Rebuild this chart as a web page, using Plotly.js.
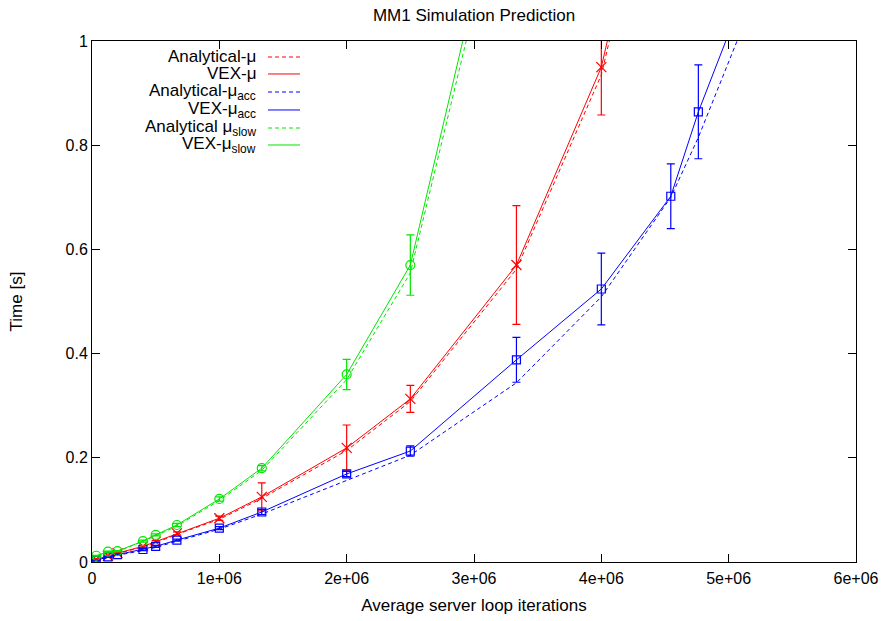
<!DOCTYPE html>
<html>
<head>
<meta charset="utf-8">
<script src="https://cdn.plot.ly/plotly-3.0.1.min.js"></script>
<style>html,body{margin:0;padding:0;background:#fff;}#chart{width:886px;height:621px;}</style>
</head>
<body>
<div id="chart"></div>
<script>
// ---- data ----
var xIter = [33333, 125000, 200000, 400000, 500000, 666667, 1000000, 1333333, 2000000, 2500000, 3333333, 4000000, 4545455, 4761905, 5263158];

var analyticalMu = [0.004, 0.011, 0.016, 0.029, 0.037, 0.053, 0.082, 0.122, 0.214, 0.308, 0.562, 0.935, 1.50];
var vexMu        = [0.005, 0.012, 0.017, 0.030, 0.039, 0.055, 0.084, 0.125, 0.219, 0.313, 0.570, 0.950, 1.53];
var vexMuErr     = [0.001, 0.001, 0.002, 0.002, 0.002, 0.003, 0.004, 0.027, 0.044, 0.026, 0.114, 0.092, 0.12];

var analyticalAcc = [0.003, 0.009, 0.013, 0.022, 0.028, 0.040, 0.063, 0.092, 0.157, 0.205, 0.344, 0.509, 0.700, 0.815, 1.12];
var vexAcc        = [0.003, 0.010, 0.014, 0.024, 0.030, 0.042, 0.065, 0.096, 0.169, 0.213, 0.388, 0.524, 0.702, 0.864, 1.18];
var vexAccErr     = [0.001, 0.001, 0.001, 0.002, 0.002, 0.002, 0.003, 0.005, 0.005, 0.010, 0.043, 0.069, 0.062, 0.090, 0.10];

var analyticalSlow = [0.011, 0.019, 0.020, 0.039, 0.050, 0.069, 0.118, 0.176, 0.350, 0.555, 1.40];
var vexSlow        = [0.012, 0.020, 0.021, 0.040, 0.052, 0.071, 0.121, 0.180, 0.360, 0.570, 1.44];
var vexSlowErr     = [0.001, 0.001, 0.001, 0.002, 0.002, 0.003, 0.004, 0.005, 0.029, 0.058, 0.10];

var seriesNames = ['Analytical-μ', 'VEX-μ', 'Analytical-μ<sub>acc</sub>', 'VEX-μ<sub>acc</sub>', 'Analytical μ<sub>slow</sub>', 'VEX-μ<sub>slow</sub>'];

var xTickVals = [0, 1000000, 2000000, 3000000, 4000000, 5000000, 6000000];
var xTickText = ['0', '1e+06', '2e+06', '3e+06', '4e+06', '5e+06', '6e+06'];
var yTickVals = [0, 0.2, 0.4, 0.6, 0.8, 1];
var yTickText = ['0', '0.2', '0.4', '0.6', '0.8', '1'];

// ---- styles ----
var RED = '#ff0000', BLUE = '#0000ff', GREEN = '#00e600';
var DASH = '4px,3px';
var FONT = 'Liberation Sans, Arial, Helvetica, sans-serif';

function sub(arr, n) { return arr.slice(0, n); }

var traces = [
  {x: sub(xIter, analyticalMu.length), y: analyticalMu, mode: 'lines', line: {color: RED, width: 1, dash: DASH}, name: seriesNames[0]},
  {x: sub(xIter, vexMu.length), y: vexMu, mode: 'lines+markers', line: {color: RED, width: 1},
   marker: {symbol: 'x-thin-open', size: 10, color: RED, line: {color: RED, width: 1.2}},
   error_y: {type: 'data', array: vexMuErr, color: RED, thickness: 1.2, width: 4}, name: seriesNames[1]},
  {x: sub(xIter, analyticalAcc.length), y: analyticalAcc, mode: 'lines', line: {color: BLUE, width: 1, dash: DASH}, name: seriesNames[2]},
  {x: sub(xIter, vexAcc.length), y: vexAcc, mode: 'lines+markers', line: {color: BLUE, width: 1},
   marker: {symbol: 'square-open', size: 8, color: BLUE, line: {color: BLUE, width: 1.2}},
   error_y: {type: 'data', array: vexAccErr, color: BLUE, thickness: 1.2, width: 4}, name: seriesNames[3]},
  {x: sub(xIter, analyticalSlow.length), y: analyticalSlow, mode: 'lines', line: {color: GREEN, width: 1, dash: DASH}, name: seriesNames[4]},
  {x: sub(xIter, vexSlow.length), y: vexSlow, mode: 'lines+markers', line: {color: GREEN, width: 1},
   marker: {symbol: 'circle-open', size: 9, color: GREEN, line: {color: GREEN, width: 1.2}},
   error_y: {type: 'data', array: vexSlowErr, color: GREEN, thickness: 1.2, width: 4}, name: seriesNames[5]}
];

// custom gnuplot-style key (text right-aligned, sample on the right)
var keyColors = [RED, RED, BLUE, BLUE, GREEN, GREEN];
var keyDash = [DASH, 'solid', DASH, 'solid', DASH, 'solid'];
var keyRowsY = [0.9693, 0.9367, 0.9021, 0.8676, 0.8330, 0.8004];
var annotations = [], shapes = [];
for (var i = 0; i < seriesNames.length; i++) {
  annotations.push({xref: 'paper', yref: 'paper', x: 0.2173, y: keyRowsY[i], xanchor: 'right', yanchor: 'middle',
    text: seriesNames[i], showarrow: false, font: {family: FONT, size: 17, color: '#000'}});
  shapes.push({type: 'line', xref: 'paper', yref: 'paper', x0: 0.2304, x1: 0.2723, y0: keyRowsY[i], y1: keyRowsY[i],
    line: {color: keyColors[i], width: 1, dash: keyDash[i]}});
}

var layout = {
  width: 886, height: 621,
  margin: {l: 92, r: 30, t: 41, b: 59},
  paper_bgcolor: '#fff', plot_bgcolor: '#fff',
  showlegend: false,
  font: {family: FONT, size: 16, color: '#000'},
  title: {text: 'MM1 Simulation Prediction', font: {family: FONT, size: 17, color: '#000'},
          xref: 'paper', x: 0.5, xanchor: 'center', yref: 'container', y: 0.986, yanchor: 'top'},
  xaxis: {
    range: [0, 6000000], tickvals: xTickVals, ticktext: xTickText,
    showline: true, linecolor: '#000', linewidth: 1, mirror: 'ticks',
    ticks: 'inside', ticklen: 8, tickcolor: '#000', showgrid: false, zeroline: false,
    tickfont: {family: FONT, size: 16}, ticklabelstandoff: 2,
    title: {text: 'Average server loop iterations', font: {family: FONT, size: 17}, standoff: 12}
  },
  yaxis: {
    range: [0, 1], tickvals: yTickVals, ticktext: yTickText,
    showline: true, linecolor: '#000', linewidth: 1, mirror: 'ticks',
    ticks: 'inside', ticklen: 8, tickcolor: '#000', showgrid: false, zeroline: false,
    tickfont: {family: FONT, size: 16},
    title: {text: 'Time [s]', font: {family: FONT, size: 17}, standoff: 38}
  },
  annotations: annotations,
  shapes: shapes
};

Plotly.newPlot('chart', traces, layout, {displayModeBar: false, staticPlot: true});
</script>
</body>
</html>
